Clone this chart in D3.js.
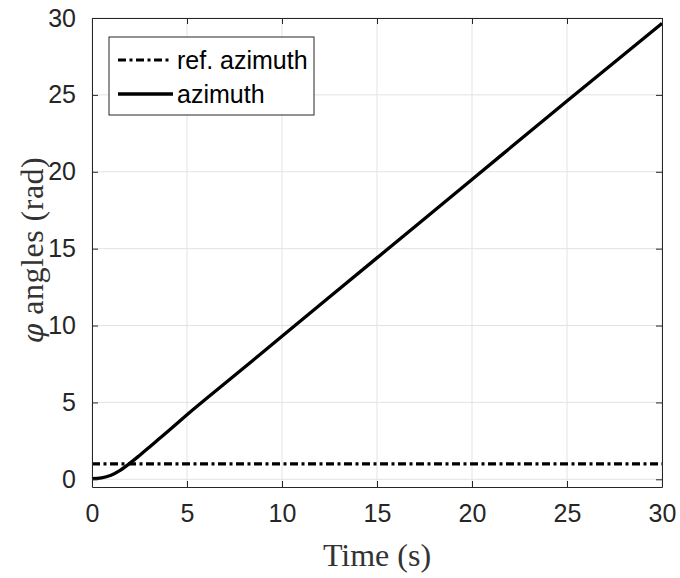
<!DOCTYPE html>
<html>
<head>
<meta charset="utf-8">
<script src="https://cdn.jsdelivr.net/npm/d3@7/dist/d3.min.js"></script>
<style>
  body { margin: 0; background: #fff; }
  svg { display: block; }
</style>
</head>
<body>
<div id="chart"></div>
<script>
// values
const time = [0, 0.5, 1, 1.5, 2, 2.5, 3, 3.5, 4, 5, 7.5, 10, 15, 20, 25, 30];
const azimuth = [0.05, 0.1, 0.27, 0.6, 1.05, 1.55, 2.07, 2.6, 3.13, 4.2, 6.75, 9.3, 14.4, 19.5, 24.6, 29.65];
const refTime = [0, 30];
const refAzimuth = [1, 1];
const xTicks = [0, 5, 10, 15, 20, 25, 30];
const yTicks = [0, 5, 10, 15, 20, 25, 30];
const legendLabels = ['ref. azimuth', 'azimuth'];

const width = 680, height = 578;
const margin = { top: 18, right: 18, bottom: 91, left: 92 };
const plotW = width - margin.left - margin.right;
const plotH = height - margin.top - margin.bottom;

const svg = d3.select('#chart')
    .append('svg')
    .attr('width', width)
    .attr('height', height);

const x = d3.scaleLinear().domain([0, 30]).range([margin.left, margin.left + plotW]);
const y = d3.scaleLinear().domain([-0.5, 30]).range([margin.top + plotH, margin.top]);

const axisColor = '#262626';
const tickFont = '"Liberation Sans", Arial, sans-serif';
const serif = '"Liberation Serif", "Times New Roman", serif';

// grid
const grid = svg.append('g');
grid.selectAll('.gx').data(xTicks).enter().append('line')
    .attr('x1', d => x(d)).attr('x2', d => x(d))
    .attr('y1', margin.top).attr('y2', margin.top + plotH)
    .attr('stroke', '#e3e3e3').attr('stroke-width', 1);
grid.selectAll('.gy').data(yTicks).enter().append('line')
    .attr('x1', margin.left).attr('x2', margin.left + plotW)
    .attr('y1', d => y(d)).attr('y2', d => y(d))
    .attr('stroke', '#e3e3e3').attr('stroke-width', 1);

// data lines
const line = d3.line()
    .x(d => x(d[0]))
    .y(d => y(d[1]))
    .curve(d3.curveMonotoneX);

const refDash = '8,3.5,3,3.5';

svg.append('path')
    .datum(refTime.map((t, i) => [t, refAzimuth[i]]))
    .attr('fill', 'none')
    .attr('stroke', '#000')
    .attr('stroke-width', 3.2)
    .attr('stroke-dasharray', refDash)
    .attr('d', line);

svg.append('path')
    .datum(time.map((t, i) => [t, azimuth[i]]))
    .attr('fill', 'none')
    .attr('stroke', '#000')
    .attr('stroke-width', 3.3)
    .attr('stroke-linejoin', 'round')
    .attr('d', line);

// axes (box with inward ticks on all sides)
const styleAxis = g => {
    g.select('.domain').attr('stroke', axisColor).attr('stroke-width', 1);
    g.selectAll('.tick line').attr('stroke', axisColor);
    g.selectAll('.tick text').attr('fill', axisColor)
        .style('font-family', tickFont).style('font-size', '25px');
};

svg.append('g')
    .attr('transform', `translate(0,${margin.top + plotH})`)
    .call(d3.axisBottom(x).tickValues(xTicks).tickSize(-6).tickSizeOuter(0).tickPadding(17))
    .call(styleAxis);

svg.append('g')
    .attr('transform', `translate(${margin.left},0)`)
    .call(d3.axisLeft(y).tickValues(yTicks).tickSize(-6).tickSizeOuter(0).tickPadding(16))
    .call(styleAxis);

svg.append('g')
    .attr('transform', `translate(0,${margin.top})`)
    .call(d3.axisTop(x).tickValues(xTicks).tickSize(-6).tickSizeOuter(0).tickFormat(''))
    .call(styleAxis);

svg.append('g')
    .attr('transform', `translate(${margin.left + plotW},0)`)
    .call(d3.axisRight(y).tickValues(yTicks).tickSize(-6).tickSizeOuter(0).tickFormat(''))
    .call(styleAxis);

// axis labels
svg.append('text')
    .attr('x', margin.left + plotW / 2)
    .attr('y', 566)
    .attr('text-anchor', 'middle')
    .style('font-family', serif)
    .style('font-size', '32px')
    .attr('fill', '#333')
    .text('Time (s)');

const yl = svg.append('text')
    .attr('transform', `translate(43,250) rotate(-90)`)
    .attr('text-anchor', 'middle')
    .style('font-family', serif)
    .style('font-size', '32px')
    .style('letter-spacing', '0.5px')
    .attr('fill', '#333');
yl.append('tspan')
    .style('font-family', '"DejaVu Serif", serif')
    .style('font-style', 'italic')
    .style('font-size', '28px')
    .text('\u03C6');
yl.append('tspan').text(' angles (rad)');

// legend
const legend = svg.append('g');
legend.append('rect')
    .attr('x', 109).attr('y', 37)
    .attr('width', 205).attr('height', 78)
    .attr('fill', '#fff')
    .attr('stroke', axisColor)
    .attr('stroke-width', 1);

const rows = [
    { label: legendLabels[0], dash: refDash, w: 3.2, cy: 60, x2: 170 },
    { label: legendLabels[1], dash: null, w: 3.3, cy: 94, x2: 173 }
];
rows.forEach(r => {
    legend.append('line')
        .attr('x1', 118).attr('x2', r.x2)
        .attr('y1', r.cy).attr('y2', r.cy)
        .attr('stroke', '#000')
        .attr('stroke-width', r.w)
        .attr('stroke-dasharray', r.dash);
    legend.append('text')
        .attr('x', 177).attr('y', r.cy)
        .attr('dy', '0.35em')
        .style('font-family', tickFont)
        .style('font-size', '25px')
        .attr('fill', '#000')
        .text(r.label);
});
</script>
</body>
</html>
